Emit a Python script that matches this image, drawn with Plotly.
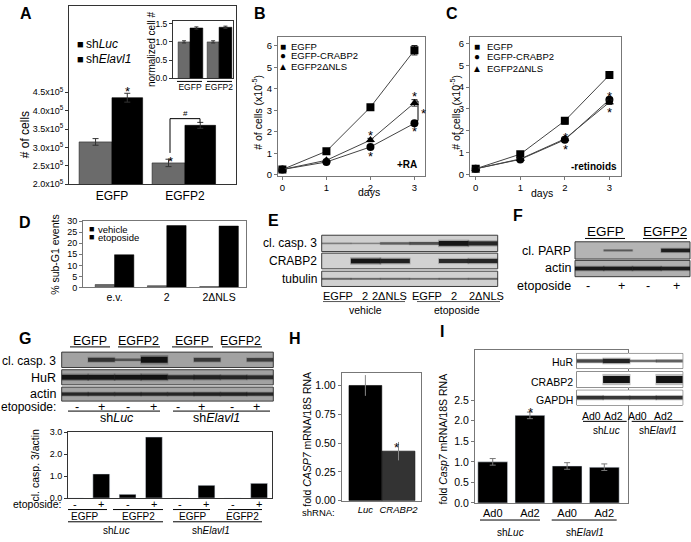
import plotly.graph_objects as go

W, H = 691, 542
FONT = "Arial, Liberation Sans, sans-serif"

# ---------------- data ----------------
# Panel A
a_groups = ["EGFP", "EGFP2"]
a_shluc = [315000, 258000]
a_shluc_err = [9000, 10000]
a_shelavl = [435000, 360000]
a_shelavl_err = [12000, 8000]
a_yticks = [200000, 250000, 300000, 350000, 400000, 450000]
a_yticktext = ["2.0x10<sup>5</sup>", "2.5x10<sup>5</sup>", "3.0x10<sup>5</sup>",
               "3.5x10<sup>5</sup>", "4.0x10<sup>5</sup>", "4.5x10<sup>5</sup>"]
a_in_shluc = [1.0, 1.0]
a_in_shelavl = [1.38, 1.40]
a_in_err = [0.03, 0.03]
a_in_yticks = [0.0, 0.5, 1.0, 1.5]
a_in_yticktext = ["0.0", "0.5", "1.0", "1.5"]

# Panels B and C
days = [0, 1, 2, 3]
b_egfp = [0.25, 1.1, 3.15, 5.8]
b_egfp_err = [0.03, 0.05, 0.12, 0.22]
b_crabp2 = [0.25, 0.6, 1.3, 2.4]
b_crabp2_err = [0.03, 0.04, 0.06, 0.08]
b_dnls = [0.25, 0.68, 1.62, 3.35]
b_dnls_err = [0.03, 0.04, 0.08, 0.15]

c_egfp = [0.25, 0.92, 2.45, 4.55]
c_egfp_err = [0.03, 0.05, 0.15, 0.06]
c_crabp2 = [0.25, 0.68, 1.58, 3.42]
c_crabp2_err = [0.03, 0.04, 0.08, 0.1]
c_dnls = [0.25, 0.7, 1.62, 3.3]
c_dnls_err = [0.03, 0.04, 0.08, 0.1]

# Panel D
d_cats = ["e.v.", "2", "2ΔNLS"]
d_vehicle = [1.3, 0.8, 0.4]
d_etoposide = [14.8, 28.0, 27.8]
d_yticks = [0, 5, 10, 15, 20, 25, 30]

# Panel E (band intensities per lane)
e_lanes = ["EGFP", "2", "2ΔNLS", "EGFP", "2", "2ΔNLS"]
e_casp3 = [0.15, 0.12, 0.35, 0.45, 0.95, 0.8]
e_crabp2 = [0.0, 0.95, 0.85, 0.0, 0.75, 0.8]
e_tubulin = [0.3, 0.28, 0.3, 0.25, 0.28, 0.3]

# Panel F
f_etoposide = ["-", "+", "-", "+"]
f_parp = [0.0, 0.3, 0.0, 0.85]
f_actin = [0.9, 0.9, 0.9, 0.85]

# Panel G
g_etoposide = ["-", "+", "-", "+", "-", "+", "-", "+"]
g_casp3 = [0.0, 0.6, 0.3, 1.0, 0.0, 0.55, 0.0, 0.5]
g_hur = [0.95, 0.95, 0.95, 1.0, 0.75, 0.8, 0.75, 0.7]
g_actin = [0.75, 0.75, 0.75, 0.75, 0.75, 0.8, 0.8, 0.75]
g_ratio = [0.0, 1.1, 0.17, 2.78, 0.0, 0.58, 0.0, 0.67]

# Panel H
h_cats = ["Luc", "CRABP2"]
h_vals = [1.0, 0.43]
h_err = [0.09, 0.08]

# Panel I
i_cats = ["Ad0", "Ad2", "Ad0", "Ad2"]
i_vals = [1.0, 2.13, 0.9, 0.87]
i_err = [0.08, 0.08, 0.08, 0.08]
i_hur = [0.6, 0.85, 0.35, 0.45]
i_crabp2 = [0.0, 1.0, 0.0, 1.0]
i_gapdh = [0.75, 0.7, 0.7, 0.75]

# ---------------- helpers ----------------
annotations, shapes, traces = [], [], []
axes = {}
_n = [0]


def px(x):
    return x / W


def py(y):
    return 1 - y / H


def new_axes(x0, x1, ytop, ybot, xr, yr, xkw=None, ykw=None):
    _n[0] += 1
    s = "" if _n[0] == 1 else str(_n[0])
    xa = dict(domain=[px(x0), px(x1)], anchor="y" + s, range=xr,
              showgrid=False, zeroline=False, fixedrange=True)
    ya = dict(domain=[py(ybot), py(ytop)], anchor="x" + s, range=yr,
              showgrid=False, zeroline=False, fixedrange=True)
    xa.update(xkw or {})
    ya.update(ykw or {})
    axes["xaxis" + s] = xa
    axes["yaxis" + s] = ya
    return "x" + s, "y" + s


def text(x, y, t, size=10, bold=False, xanchor="center", angle=0, xref="paper"):
    if bold:
        t = "<b>" + t + "</b>"
    annotations.append(dict(x=px(x) if xref == "paper" else x, y=py(y), xref=xref,
                            yref="paper", text=t,
                            showarrow=False, xanchor=xanchor, yanchor="middle",
                            textangle=angle, borderpad=0,
                            font=dict(size=size, color="black", family=FONT)))


def star(x, y, size=13):
    text(x, y + 3, "*", size)


def line(x0, y0, x1, y1, w=1, color="black"):
    shapes.append(dict(type="line", xref="paper", yref="paper", x0=px(x0), x1=px(x1),
                       y0=py(y0), y1=py(y1), line=dict(color=color, width=w)))


def chart_axis(lc, fs, **kw):
    d = dict(showline=True, linecolor=lc, linewidth=1, mirror=True, ticks="outside",
             ticklen=3, tickwidth=1, tickcolor=lc,
             tickfont=dict(size=fs, family=FONT, color="black"))
    d.update(kw)
    return d


def blot(x0, x1, ytop, ybot, vals, bg, thick=4.0, frac=0.72):
    n = len(vals)
    xa, ya = new_axes(x0, x1, ytop, ybot, [0.5, n + 0.5], [-1, 1],
                      dict(visible=False), dict(visible=False))
    shapes.append(dict(type="rect", xref=xa + " domain", yref=ya + " domain",
                       x0=0, x1=1, y0=0, y1=1, fillcolor=bg, layer="below",
                       line=dict(color="#3a3a3a", width=1)))
    lane_px = (x1 - x0) / n
    lanes = list(range(1, n + 1))
    traces.append(go.Scatter(
        x=lanes, y=[0] * n, xaxis=xa, yaxis=ya, mode="markers", hoverinfo="skip",
        showlegend=False,
        marker=dict(symbol="line-ew", size=lane_px * frac * 1.05, color="#222",
                    opacity=[0.3 * v for v in vals],
                    line=dict(color="#222", width=[1.7 * thick * v + 1 for v in vals]))))
    traces.append(go.Scatter(
        x=lanes, y=[0] * n, xaxis=xa, yaxis=ya, mode="markers", hoverinfo="skip",
        showlegend=False,
        marker=dict(symbol="line-ew", size=lane_px * frac, color="#111",
                    opacity=[min(1.0, 0.3 + 0.7 * v) if v > 0 else 0 for v in vals],
                    line=dict(color="#111", width=[1 + thick * v for v in vals]))))


# ---------------- Panel A ----------------
xa, ya = new_axes(69, 236, 1, 183, [0.411, 2.70], [200000, 684000],
                  chart_axis("#333", 12, ticks="", tickvals=[1, 2], ticktext=a_groups),
                  chart_axis("#333", 9, tickvals=a_yticks, ticktext=a_yticktext))
traces.append(go.Bar(x=[1, 2], y=a_shluc, offset=-0.45, width=0.45, xaxis=xa, yaxis=ya,
                     marker=dict(color="#6b6b6b", line=dict(color="#222", width=0.6)),
                     error_y=dict(type="data", array=a_shluc_err, color="#333", thickness=1, width=3),
                     showlegend=False))
traces.append(go.Bar(x=[1, 2], y=a_shelavl, offset=0.0, width=0.42, xaxis=xa, yaxis=ya,
                     marker=dict(color="#000", line=dict(color="#000", width=0.6)),
                     error_y=dict(type="data", array=a_shelavl_err, color="#333", thickness=1, width=3),
                     showlegend=False))
text(26, 9, "A", 16, bold=True)
text(25, 133, "# of cells", 12, angle=-90)
text(80, 40, "■", 11)
text(85, 40, "sh<i>Luc</i>", 12, xanchor="left")
text(80, 55, "■", 11)
text(85, 55, "sh<i>Elavl1</i>", 12, xanchor="left")
star(128, 85)
star(170, 157)
text(185, 111, "#", 8)
line(170, 151, 170, 116)
line(170, 116, 200, 116)
line(200, 116, 200, 120)

# inset
xa, ya = new_axes(173, 233, 16, 75, [0.414, 2.48], [0, 1.58],
                  chart_axis("#333", 8.5, ticks="", tickvals=[1, 2], ticktext=a_groups),
                  chart_axis("#333", 8.5, tickvals=a_in_yticks, ticktext=a_in_yticktext))
traces.append(go.Bar(x=[1, 2], y=a_in_shluc, offset=-0.41, width=0.41, xaxis=xa, yaxis=ya,
                     marker=dict(color="#6b6b6b", line=dict(color="#222", width=0.5)),
                     error_y=dict(type="data", array=a_in_err, color="#333", thickness=1, width=2),
                     showlegend=False))
traces.append(go.Bar(x=[1, 2], y=a_in_shelavl, offset=0.0, width=0.44, xaxis=xa, yaxis=ya,
                     marker=dict(color="#000", line=dict(color="#000", width=0.5)),
                     error_y=dict(type="data", array=a_in_err, color="#333", thickness=1, width=2),
                     showlegend=False))
text(151, 46, "normalized cell #", 10, angle=-90)
line(177, 78, 202, 78)
line(207, 78, 232, 78)

# ---------------- Panels B, C ----------------
def growth(x0, x1, xr, yr, series):
    xa, ya = new_axes(x0, x1, 33, 174.5, xr, yr,
                      chart_axis("#777", 9.5, tickvals=days),
                      chart_axis("#777", 9.5, tickvals=[0, 1, 2, 3, 4, 5, 6]))
    for vals, err, sym in series:
        traces.append(go.Scatter(x=days, y=vals, xaxis=xa, yaxis=ya, mode="lines+markers",
                                 line=dict(color="#444", width=1),
                                 marker=dict(symbol=sym, size=8, color="black"),
                                 error_y=dict(type="data", array=err, color="#222",
                                              thickness=1, width=3),
                                 showlegend=False))


growth(278, 425, [-0.1, 3.24], [-0.05, 6.4],
       [(b_egfp, b_egfp_err, "square"), (b_crabp2, b_crabp2_err, "circle"),
        (b_dnls, b_dnls_err, "triangle-up")])
growth(470, 621, [-0.128, 3.26], [-0.08, 6.28],
       [(c_egfp, c_egfp_err, "square"), (c_crabp2, c_crabp2_err, "circle"),
        (c_dnls, c_dnls_err, "triangle-up")])

for (lx, tx, ys, lab_x, lab_y, lab) in [
        (282.5, 290, [42, 52, 63], 418, 163, "+RA"),
        (477, 486, [42, 53, 65], 618, 165, "-retinoids")]:
    for sym, name, yy in zip(["■", "●", "▲"], ["EGFP", "EGFP-CRABP2", "EGFP2ΔNLS"], ys):
        text(lx, yy, sym, 10)
        text(tx, yy, name, 9.5, xanchor="left")
    text(lab_x, lab_y, lab, 10, bold=True, xanchor="right")

text(260, 9, "B", 16, bold=True)
text(452, 9, "C", 16, bold=True)
text(257, 110, "# of cells (x10<sup>-5</sup>)", 10.5, angle=-90)
text(455, 110, "# of cells (x10<sup>-5</sup>)", 10.5, angle=-90)
text(369, 191, "days", 10.5)
text(542, 192, "days", 10.5)
# B asterisks
star(414, 90)
star(414, 126)
star(370, 130)
star(370, 152)
line(418, 98, 418, 118)
line(414, 98, 418, 98)
line(414, 118, 418, 118)
star(423, 108)
# C asterisks
star(609, 90)
star(609, 107)
star(565, 132)
star(565, 144)

# ---------------- Panel D ----------------
xa, ya = new_axes(83, 245.7, 220, 288.3, [0.397, 3.51], [0, 30.3],
                  chart_axis("#777", 10.5, ticks="", tickvals=[1, 2, 3], ticktext=d_cats),
                  chart_axis("#777", 9, tickvals=d_yticks))
traces.append(go.Bar(x=[1, 2, 3], y=d_vehicle, offset=-0.37, width=0.37, xaxis=xa, yaxis=ya,
                     marker=dict(color="#6b6b6b", line=dict(color="#222", width=0.5)),
                     showlegend=False))
traces.append(go.Bar(x=[1, 2, 3], y=d_etoposide, offset=0.0, width=0.37, xaxis=xa, yaxis=ya,
                     marker=dict(color="#000", line=dict(color="#000", width=0.5)),
                     showlegend=False))
text(25, 222, "D", 16, bold=True)
text(55, 255, "% sub-G1 events", 10.5, angle=-90)
text(91, 229, "■", 9)
text(97, 229, "vehicle", 9.5, xanchor="left")
text(91, 237, "■", 9)
text(97, 237, "etoposide", 9.5, xanchor="left")

# ---------------- Panel E ----------------
blot(321.7, 497.7, 235, 251.7, e_casp3, "#cfcfcf", thick=4)
blot(321.7, 497.7, 253.3, 269.3, e_crabp2, "#d2d2d2", thick=4)
blot(321.7, 497.7, 271.7, 287.3, e_tubulin, "#d0d0d0", thick=3)
text(273, 220, "E", 16, bold=True)
text(318, 243.3, "cl. casp. 3", 12, xanchor="right")
text(318, 261, "CRABP2", 12, xanchor="right")
text(318, 279.3, "tubulin", 12, xanchor="right")
for lab, xx in zip(e_lanes, [338, 365, 389, 427, 454, 487]):
    text(xx, 297, lab, 11)
line(323, 302.7, 405, 302.7, color="#555")
line(417, 302.7, 500, 302.7, color="#555")
text(365, 311, "vehicle", 10.5)
text(457, 311, "etoposide", 10.5)

# ---------------- Panel F ----------------
blot(575, 690, 241.7, 259.3, f_parp, "#b4b4b4", thick=3)
blot(575, 690, 260.7, 277.3, f_actin, "#b0b0b0", thick=3)
text(518, 215, "F", 16, bold=True)
text(605, 231.7, "EGFP", 13.5)
text(665, 231.7, "EGFP2", 13.5)
line(585, 238.3, 625, 238.3)
line(643, 238.3, 687, 238.3)
text(571.7, 251, "cl. PARP", 12.5, xanchor="right")
text(571.7, 268.5, "actin", 12.5, xanchor="right")
text(571.7, 287, "etoposide", 12.5, xanchor="right")
for lab, xx in zip(f_etoposide, [588, 621.7, 648, 676.7]):
    text(xx, 287, lab, 12.5)

# ---------------- Panel G ----------------
blot(61.7, 273.3, 354.3, 370, g_casp3, "#a2a2a2", thick=5)
blot(61.7, 273.3, 372.3, 387.7, g_hur, "#a2a2a2", thick=4)
blot(61.7, 273.3, 390, 404.3, g_actin, "#a4a4a4", thick=3)
text(25, 340, "G", 16, bold=True)
for lab, xx in zip(["EGFP", "EGFP2", "EGFP", "EGFP2"], [90, 138.3, 191.7, 240]):
    text(xx, 343.3, lab, 12.5)
for a, b in [(70, 110), (118, 160), (172, 213), (222, 262)]:
    line(a, 349, b, 349)
text(57, 363.3, "cl. casp. 3", 12, xanchor="right")
text(57, 380.7, "HuR", 12.5, xanchor="right")
text(57, 396.7, "actin", 12.5, xanchor="right")
text(57, 410, "etoposide:", 12, xanchor="right")
for lab, xx in zip(g_etoposide, [76.7, 101.7, 127.7, 153.3, 178.3, 201.7, 231.7, 256.7]):
    text(xx, 410, lab, 12.5)
line(68, 414.5, 160, 414.5)
line(173, 414.5, 270, 414.5)
text(116.7, 422, "sh<i>Luc</i>", 12.5)
text(216.7, 422, "sh<i>Elavl1</i>", 12.5)

# G quantification
g_x = [1, 2, 3, 4, 5, 6, 7, 8]
xa, ya = new_axes(68, 271.7, 436, 503.3, [0.735, 8.48], [0, 3.0],
                  chart_axis("#333", 10.5, ticks="", showticklabels=False),
                  chart_axis("#333", 9, tickvals=[0, 1, 2, 3],
                             ticktext=["0.0", "1.0", "2.0", "3.0"]))
traces.append(go.Bar(x=g_x, y=g_ratio, width=0.64, xaxis=xa, yaxis=ya,
                     marker=dict(color="#000"), showlegend=False))
text(35, 470, "cl. casp. 3/actin", 10.5, angle=-90)
text(61.7, 509.5, "etoposide:", 10.5, xanchor="right")
for lab, xx in zip(g_etoposide, g_x):
    text(xx, 509.5, lab, 11, xref=xa)
for a, b in [(68, 107), (113, 163), (173, 210), (228, 262)]:
    line(a, 515, b, 515)
for lab, xx in zip(["EGFP", "EGFP2", "EGFP", "EGFP2"], [85, 138.3, 193.3, 242]):
    text(xx, 521.7, lab, 10)
line(68, 527.5, 163, 527.5)
line(173, 527.5, 262, 527.5)
text(116.7, 536, "sh<i>Luc</i>", 10)
text(211, 536, "sh<i>Elavl1</i>", 10)

# ---------------- Panel H ----------------
xa, ya = new_axes(341.7, 420.7, 376, 506, [0.285, 2.67], [0, 1.105],
                  chart_axis("#777", 9.5, ticks="", tickvals=[1, 2],
                             ticktext=["<i>" + c + "</i>" for c in h_cats]),
                  chart_axis("#777", 10.5, tickvals=[0, 0.25, 0.5, 0.75, 1.0],
                             ticktext=["0.00", "0.25", "0.50", "0.75", "1.00"]))
traces.append(go.Bar(x=[1, 2], y=h_vals, width=0.99, xaxis=xa, yaxis=ya,
                     marker=dict(color=["#000", "#333"], line=dict(color="#000", width=0.6)),
                     error_y=dict(type="data", array=h_err, color="#888", thickness=1, width=0),
                     showlegend=False))
text(295, 340, "H", 16, bold=True)
text(306.7, 443, "fold <i>CASP7</i> mRNA/18S RNA", 10.5, angle=-90)
star(396.7, 449)
text(318, 518.5, "shRNA:", 9.5)

# ---------------- Panel I ----------------
i_x = [1, 2, 3, 4]
xa, ya = new_axes(475, 628.3, 351.7, 508.3, [0.524, 4.645], [0, 3.73],
                  chart_axis("#777", 11, ticks="", tickvals=i_x, ticktext=i_cats),
                  chart_axis("#777", 10.5, tickvals=[0, 0.5, 1.0, 1.5, 2.0, 2.5],
                             ticktext=["0.0", "0.5", "1.0", "1.5", "2.0", "2.5"]))
traces.append(go.Bar(x=i_x, y=i_vals, width=0.8, xaxis=xa, yaxis=ya,
                     marker=dict(color="#000"),
                     error_y=dict(type="data", array=i_err, color="#777", thickness=1, width=3),
                     showlegend=False))
text(442, 333, "I", 16, bold=True)
text(443.3, 443.3, "fold <i>Casp7</i> mRNA/18S RNA", 10.5, angle=-90)
star(530, 413)
line(480, 525.7, 540, 525.7)
line(551.7, 525.7, 616.7, 525.7)
text(510, 538, "sh<i>Luc</i>", 10)
text(585, 538, "sh<i>Elavl1</i>", 10)

blot(576.7, 682.7, 355.7, 371, i_hur, "#cacaca", thick=4)
blot(576.7, 682.7, 374.3, 390.3, i_crabp2, "#cacaca", thick=6)
blot(576.7, 682.7, 393.3, 408.3, i_gapdh, "#cacaca", thick=3.5)
text(574, 364.3, "HuR", 10.5, xanchor="right")
text(574, 384.3, "CRABP2", 10.5, xanchor="right")
text(574, 403.3, "GAPDH", 10.5, xanchor="right")
for lab, xx in zip(i_cats, [591.7, 613.3, 637.3, 663.3]):
    text(xx, 419.3, lab, 10.5)
line(583, 425, 626.7, 425)
line(631.7, 425, 683.3, 425)
text(606.7, 434.3, "sh<i>Luc</i>", 10)
text(658.3, 434.3, "sh<i>Elavl1</i>", 10)

# ---------------- figure ----------------
fig = go.Figure(data=traces)
fig.update_layout(
    width=W, height=H, autosize=False,
    margin=dict(l=0, r=0, t=0, b=0, pad=0),
    paper_bgcolor="white", plot_bgcolor="white",
    font=dict(family=FONT, color="black"),
    barmode="overlay", showlegend=False,
    annotations=annotations, shapes=shapes,
    **axes,
)
fig.write_html("out.html", config={"displayModeBar": False},
               post_script="document.body.style.margin='0px';document.body.style.overflow='hidden';")
